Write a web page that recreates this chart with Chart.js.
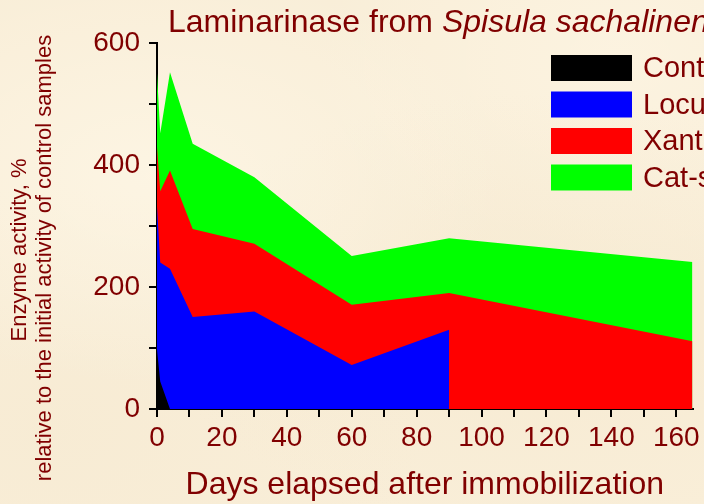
<!DOCTYPE html>
<html>
<head>
<meta charset="utf-8">
<script src="https://cdn.jsdelivr.net/npm/chart.js@4.4.1/dist/chart.umd.min.js"></script>
<style>
  html, body { margin: 0; padding: 0; }
  body {
    width: 704px;
    height: 504px;
    overflow: hidden;
    background:
      radial-gradient(ellipse at 22% 35%, rgba(255, 249, 234, 0.6), rgba(255, 249, 234, 0) 45%),
      radial-gradient(ellipse at 75% 62%, rgba(242, 228, 200, 0.35), rgba(242, 228, 200, 0) 50%),
      radial-gradient(ellipse at 88% 12%, rgba(255, 248, 232, 0.5), rgba(255, 248, 232, 0) 35%),
      radial-gradient(ellipse at 8% 85%, rgba(244, 231, 205, 0.35), rgba(244, 231, 205, 0) 40%),
      #f9eed8;
  }
  #wrap { position: relative; width: 704px; height: 504px; }
</style>
</head>
<body>
<div id="wrap"><canvas id="chart" width="704" height="504"></canvas></div>
<script>
// data (each series' own value, stacked on top of the ones before)
const days = [0, 1, 4, 11, 30, 60, 90, 165];
const control = [97, 45, 0, null, null, null, null, null];
const locust = [235, 195, 230, 151, 160, 72, 130, null];
const xanthan = [98, 117, 161, 144, 111, 99, 60, 111];
const catSeries = [121, 95, 161, 140, 109, 80, 90, 130];

const seriesNames = ['Control', 'Locust bean gum', 'Xanthan gum', 'Cat-starch'];
const seriesColors = ['#000000', '#0000ff', '#ff0000', '#00ff00'];

const xLabels = [0, 20, 40, 60, 80, 100, 120, 140, 160];
const yLabels = [0, 200, 400, 600];

const textColor = '#800000';
const fontFamily = '"Liberation Sans", Arial, sans-serif';

// running sums -> each area filled down to the axis, first series drawn on top
const running = days.map(() => 0);
const datasets = [control, locust, xanthan, catSeries].map((vals, i) => {
  const pts = [];
  vals.forEach((v, j) => {
    if (v === null) return;
    running[j] += v;
    pts.push({ x: days[j], y: running[j] });
  });
  return {
    label: seriesNames[i],
    data: pts,
    backgroundColor: seriesColors[i],
    borderColor: 'rgba(0,0,0,0)',
    borderWidth: 0,
    pointRadius: 0,
    tension: 0,
    fill: 'origin'
  };
});

const decor = {
  id: 'decor',
  afterDraw(chart) {
    const ctx = chart.ctx;
    ctx.save();
    ctx.fillStyle = textColor;

    // title (runs off the right edge like the original)
    ctx.textBaseline = 'alphabetic';
    ctx.textAlign = 'left';
    ctx.font = '32px ' + fontFamily;
    const part1 = 'Laminarinase from ';
    ctx.fillText(part1, 168, 32);
    const w1 = ctx.measureText(part1).width;
    ctx.font = 'italic 32px ' + fontFamily;
    ctx.fillText('Spisula sachalinensis', 168 + w1, 32);

    // y axis title, two lines
    ctx.font = '22px ' + fontFamily;
    ctx.textAlign = 'center';
    ctx.textBaseline = 'middle';
    ctx.save();
    ctx.translate(20, 250);
    ctx.rotate(-Math.PI / 2);
    ctx.fillText('Enzyme activity, %', 0, 0);
    ctx.restore();
    ctx.save();
    ctx.translate(45, 258);
    ctx.rotate(-Math.PI / 2);
    ctx.fillText('relative to the initial activity of control samples', 0, 0);
    ctx.restore();

    // legend
    ctx.font = '29px ' + fontFamily;
    ctx.textAlign = 'left';
    seriesNames.forEach((name, i) => {
      const top = 55 + i * 36.5;
      ctx.fillStyle = seriesColors[i];
      ctx.fillRect(551, top, 81, 26);
      ctx.fillStyle = textColor;
      ctx.fillText(name, 643, top + 14);
    });
    ctx.restore();
  }
};

new Chart(document.getElementById('chart'), {
  type: 'line',
  data: { datasets: datasets },
  options: {
    responsive: false,
    animation: false,
    layout: { padding: { left: 0, top: 43, right: 11, bottom: 0 } },
    plugins: {
      legend: { display: false },
      tooltip: { enabled: false }
    },
    scales: {
      x: {
        type: 'linear',
        min: 0,
        max: 165,
        afterFit(scale) { scale.height = 95; },
        grid: { drawOnChartArea: false, color: '#000', lineWidth: 2, tickLength: 8 },
        border: { color: '#000', width: 2 },
        ticks: {
          stepSize: 10,
          includeBounds: false,
          autoSkip: false,
          maxRotation: 0,
          padding: 4,
          color: textColor,
          font: { family: fontFamily, size: 28 },
          callback: (v) => xLabels.includes(v) ? String(v) : ''
        },
        title: {
          display: true,
          text: 'Days elapsed after immobilization',
          color: textColor,
          font: { family: fontFamily, size: 32 },
          padding: { top: 0, bottom: 0 }
        }
      },
      y: {
        min: 0,
        max: 600,
        afterFit(scale) { scale.width = 157; },
        grid: { drawOnChartArea: false, color: '#000', lineWidth: 2, tickLength: 8 },
        border: { color: '#000', width: 2 },
        ticks: {
          stepSize: 100,
          autoSkip: false,
          padding: 9,
          color: textColor,
          font: { family: fontFamily, size: 28 },
          callback: (v) => yLabels.includes(v) ? String(v) : ''
        }
      }
    }
  },
  plugins: [decor]
});
</script>
</body>
</html>
